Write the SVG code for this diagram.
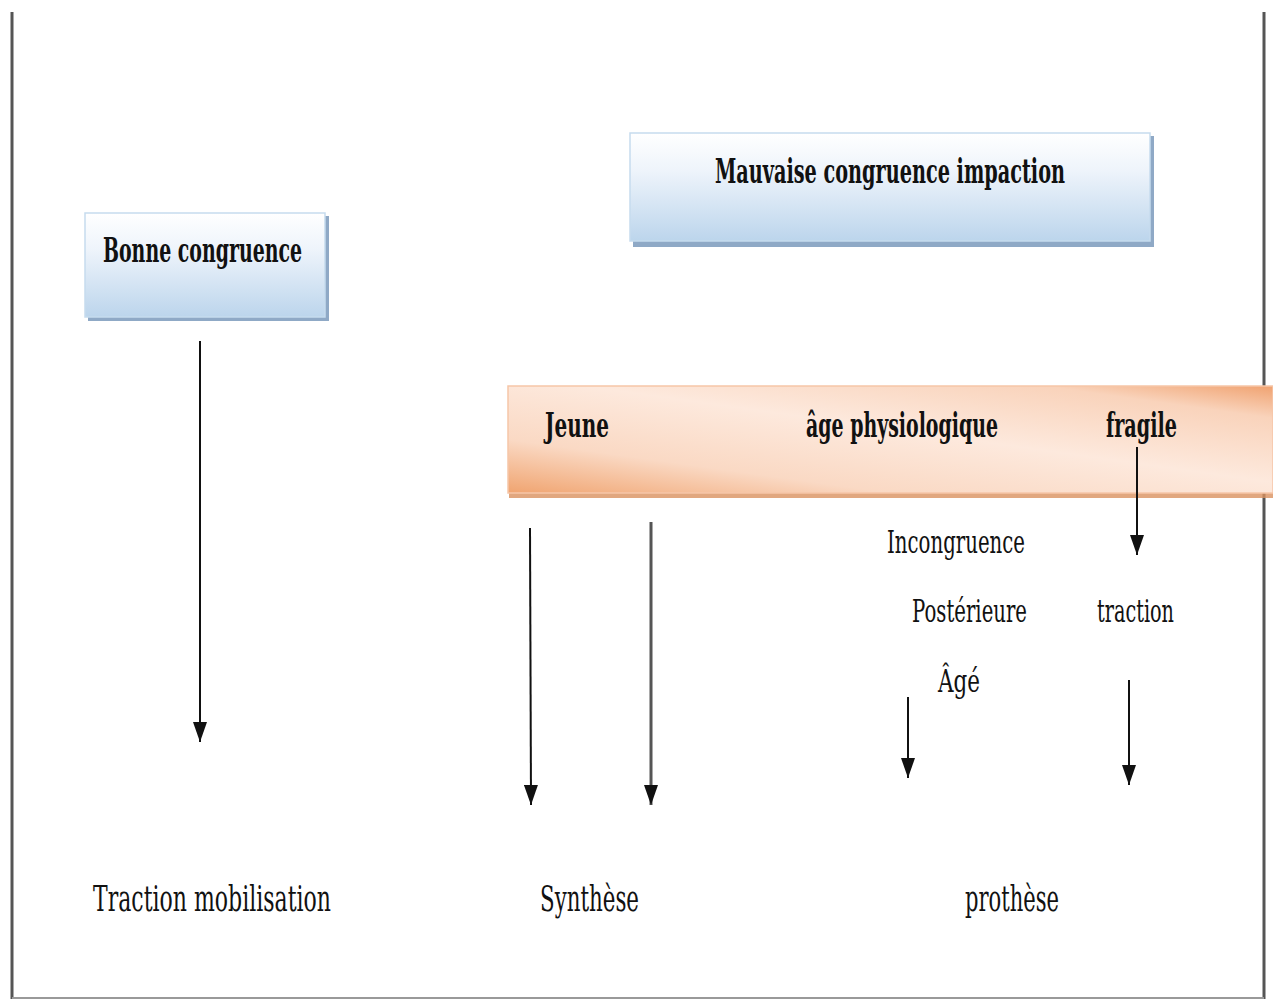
<svg xmlns="http://www.w3.org/2000/svg" width="1273" height="1001" viewBox="0 0 1273 1001">
<style>
.b{font-family:"DejaVu Serif",serif;font-weight:bold;font-size:34px;fill:#111}
.r{font-family:"DejaVu Serif",serif;font-size:32px;fill:#111}
.c{stroke:#111;stroke-width:2;fill:none}
</style>
<defs>
<linearGradient id="blue" x1="0" y1="0" x2="0" y2="1">
<stop offset="0" stop-color="#ffffff"/>
<stop offset="0.35" stop-color="#eef4fb"/>
<stop offset="1" stop-color="#bcd5ec"/>
</linearGradient>
<linearGradient id="orange" x1="0" y1="1" x2="1" y2="0">
<stop offset="0" stop-color="#f0a470"/>
<stop offset="0.25" stop-color="#fad9c4"/>
<stop offset="0.55" stop-color="#fde9dd"/>
<stop offset="0.85" stop-color="#f9d3bb"/>
<stop offset="1" stop-color="#f0a270"/>
</linearGradient>
<marker id="ah" viewBox="0 0 20 14" refX="20" refY="7" markerWidth="20" markerHeight="14" markerUnits="userSpaceOnUse" orient="auto">
<path d="M0,0 L20,7 L0,14 Z" fill="#111"/>
</marker>
</defs>
<rect width="1273" height="1001" fill="#ffffff"/>
<g id="frame">
<line x1="12" y1="12" x2="12" y2="999" stroke="#555" stroke-width="3"/>
<line x1="1264" y1="12" x2="1264" y2="999" stroke="#555" stroke-width="3"/>
<line x1="12" y1="998" x2="1264" y2="998" stroke="#999" stroke-width="2"/>
</g>
<g id="bonne">
<rect x="88" y="216" width="241" height="105" fill="#8fa9c6"/>
<rect x="85" y="213" width="240" height="104" fill="url(#blue)" stroke="#c6dbee" stroke-width="1.5"/>
<text class="b" x="103" y="262" textLength="199" lengthAdjust="spacingAndGlyphs">Bonne congruence</text>
</g>
<g id="mauvaise">
<rect x="633" y="136" width="521" height="111" fill="#8fa9c6"/>
<rect x="630" y="133" width="520" height="108" fill="url(#blue)" stroke="#c6dbee" stroke-width="1.5"/>
<text class="b" x="715" y="183" textLength="350" lengthAdjust="spacingAndGlyphs">Mauvaise congruence impaction</text>
</g>
<g id="band">
<rect x="509" y="390" width="764" height="108" fill="#d9915f" opacity="0.8"/>
<rect x="508" y="386" width="765" height="107" fill="url(#orange)" stroke="#f6c6a8" stroke-width="1.5"/>
<text class="b" x="545" y="437" textLength="64" lengthAdjust="spacingAndGlyphs">Jeune</text>
<text class="b" x="806" y="437" textLength="192" lengthAdjust="spacingAndGlyphs">âge physiologique</text>
<text class="b" x="1106" y="437" textLength="71" lengthAdjust="spacingAndGlyphs">fragile</text>
</g>
<g id="labels">
<text class="r" x="887" y="553" textLength="138" lengthAdjust="spacingAndGlyphs">Incongruence</text>
<text class="r" x="912" y="622" textLength="115" lengthAdjust="spacingAndGlyphs">Postérieure</text>
<text class="r" x="1097" y="622" textLength="77" lengthAdjust="spacingAndGlyphs">traction</text>
<text class="r" x="938" y="692" textLength="42" lengthAdjust="spacingAndGlyphs">Âgé</text>
<text class="r" x="93" y="911" textLength="238" lengthAdjust="spacingAndGlyphs" style="font-size:35px">Traction mobilisation</text>
<text class="r" x="540" y="911" textLength="99" lengthAdjust="spacingAndGlyphs" style="font-size:35px">Synthèse</text>
<text class="r" x="965" y="911" textLength="94" lengthAdjust="spacingAndGlyphs" style="font-size:35px">prothèse</text>
</g>
<g id="connectors">
<line class="c" x1="200" y1="341" x2="200" y2="742" marker-end="url(#ah)"/>
<line class="c" x1="530" y1="528" x2="531" y2="805" marker-end="url(#ah)"/>
<line class="c" x1="651" y1="522" x2="651" y2="805" marker-end="url(#ah)" style="stroke:#555;stroke-width:3"/>
<line class="c" x1="1137" y1="447" x2="1137" y2="555" marker-end="url(#ah)"/>
<line class="c" x1="908" y1="697" x2="908" y2="778" marker-end="url(#ah)"/>
<line class="c" x1="1129" y1="680" x2="1129" y2="785" marker-end="url(#ah)"/>
</g>
</svg>
